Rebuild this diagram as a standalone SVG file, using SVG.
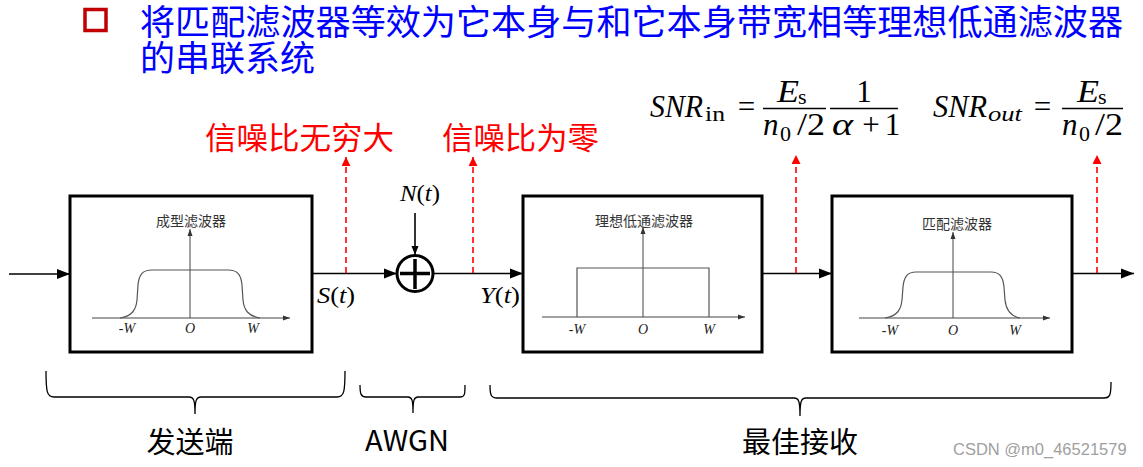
<svg xmlns="http://www.w3.org/2000/svg" width="1143" height="467" viewBox="0 0 1143 467">
<style>
.title{font-family:"Noto Sans CJK SC","Noto Sans",sans-serif;font-size:35px;fill:#0000FF}
.red{font-family:"Noto Sans CJK SC","Noto Sans",sans-serif;font-size:31px;fill:#FF0000}
.cap{font-family:"Noto Sans CJK SC","Noto Sans",sans-serif;font-size:14px;fill:#333}
.bot{font-family:"Noto Sans CJK SC","Noto Sans",sans-serif;font-size:29px;fill:#000}
.m{font-family:"Liberation Serif","DejaVu Serif",serif;fill:#000}
.mi{font-style:italic}
.ax{font-family:"Liberation Serif",serif;font-style:italic;font-size:14px;fill:#222;text-anchor:middle}
.box{fill:#fff;stroke:#000;stroke-width:3}
.axis{stroke:#444;stroke-width:1;fill:none}
.curve{stroke:#555;stroke-width:1.2;fill:none}
.flow{stroke:#000;stroke-width:1.6;fill:none}
.dash{stroke:#FF0000;stroke-width:1.6;stroke-dasharray:6,4;fill:none}
.bar{stroke:#000;stroke-width:1.5}
.brace{stroke:#000;stroke-width:1.3;fill:none}
</style>
<defs>
<marker id="ah" markerUnits="userSpaceOnUse" markerWidth="14" markerHeight="12" refX="13" refY="6" orient="auto"><path d="M0,1 L13,6 L0,11 Z" fill="#000"/></marker>
<marker id="ahs" markerUnits="userSpaceOnUse" markerWidth="10" markerHeight="8" refX="9" refY="4" orient="auto"><path d="M0,0.5 L9,4 L0,7.5 Z" fill="#000"/></marker>
<marker id="axh" markerUnits="userSpaceOnUse" markerWidth="8" markerHeight="6" refX="7" refY="3" orient="auto"><path d="M0,0.5 L7,3 L0,5.5 Z" fill="#333"/></marker>
<marker id="rh" markerUnits="userSpaceOnUse" markerWidth="10" markerHeight="10" refX="9" refY="4.5" orient="auto"><path d="M0,0 L9,4.5 L0,9 Z" fill="#FF0000"/></marker>
</defs>

<g id="title">
<rect x="85" y="9.5" width="21" height="21" fill="none" stroke="#C00000" stroke-width="3.5"/>
<text class="title" x="140" y="35" textLength="983" lengthAdjust="spacingAndGlyphs">将匹配滤波器等效为它本身与和它本身带宽相等理想低通滤波器</text>
<text class="title" x="140" y="71">的串联系统</text>
</g>

<g id="labels-red">
<text class="red" x="205" y="149" textLength="189" lengthAdjust="spacingAndGlyphs">信噪比无穷大</text>
<text class="red" x="442" y="149" textLength="157" lengthAdjust="spacingAndGlyphs">信噪比为零</text>
</g>

<g id="formula-in" class="m">
<text x="650" y="117" font-size="31" class="mi" textLength="53" lengthAdjust="spacingAndGlyphs">SNR</text>
<text x="705" y="121" font-size="22" textLength="20" lengthAdjust="spacingAndGlyphs">in</text>
<text x="746.5" y="117" font-size="31" text-anchor="middle">=</text>
<line class="bar" x1="763" y1="108.5" x2="826" y2="108.5"/>
<text x="777" y="102" font-size="31" class="mi" textLength="22" lengthAdjust="spacingAndGlyphs">E</text>
<text x="798" y="104" font-size="22">s</text>
<text x="763" y="135" font-size="31" class="mi">n</text>
<text x="780" y="141" font-size="22">0</text>
<text x="797" y="135" font-size="31" textLength="28" lengthAdjust="spacingAndGlyphs">/2</text>
<line class="bar" x1="830" y1="108.5" x2="898" y2="108.5"/>
<text x="864" y="102" font-size="31" text-anchor="middle">1</text>
<text x="832" y="135" font-size="31" class="mi" textLength="21" lengthAdjust="spacingAndGlyphs">α</text>
<text x="871" y="135" font-size="31" text-anchor="middle">+</text>
<text x="892.5" y="135" font-size="31" text-anchor="middle">1</text>
</g>

<g id="formula-out" class="m">
<text x="933" y="117" font-size="31" class="mi" textLength="54" lengthAdjust="spacingAndGlyphs">SNR</text>
<text x="988" y="121" font-size="22" class="mi" textLength="34" lengthAdjust="spacingAndGlyphs">out</text>
<text x="1042.5" y="117" font-size="31" text-anchor="middle">=</text>
<line class="bar" x1="1062" y1="108.5" x2="1123" y2="108.5"/>
<text x="1077" y="102" font-size="31" class="mi" textLength="22" lengthAdjust="spacingAndGlyphs">E</text>
<text x="1098" y="104" font-size="22">s</text>
<text x="1062" y="135" font-size="31" class="mi">n</text>
<text x="1079" y="141" font-size="22">0</text>
<text x="1095" y="135" font-size="31" textLength="28" lengthAdjust="spacingAndGlyphs">/2</text>
</g>

<g id="shaping-filter">
<rect class="box" x="70" y="196" width="242" height="156"/>
<text class="cap" x="191" y="226" text-anchor="middle">成型滤波器</text>
<line class="axis" x1="92" y1="318" x2="290" y2="318" marker-end="url(#axh)"/>
<line class="axis" x1="190" y1="318" x2="190" y2="229" marker-end="url(#axh)"/>
<path class="curve" d="M120,318 C132,316 136,310 137,300 L138,285 C139,274 143,270 152,270 L228,270 C237,270 241,274 242,285 L243,300 C244,310 248,316 260,318"/>
<text class="ax" x="127" y="333">-W</text>
<text class="ax" x="190" y="333">O</text>
<text class="ax" x="253" y="333">W</text>
</g>

<g id="adder">
<circle cx="415" cy="273.5" r="18" fill="#fff" stroke="#000" stroke-width="3"/>
<line x1="400" y1="273.5" x2="430" y2="273.5" stroke="#000" stroke-width="3.5"/>
<line x1="415" y1="259" x2="415" y2="289" stroke="#000" stroke-width="3.5"/>
</g>

<g id="ideal-lpf">
<rect class="box" x="523" y="196" width="239" height="156"/>
<text class="cap" x="644" y="226" text-anchor="middle">理想低通滤波器</text>
<line class="axis" x1="542" y1="317" x2="745" y2="317" marker-end="url(#axh)"/>
<line class="axis" x1="643" y1="317" x2="643" y2="227" marker-end="url(#axh)"/>
<path class="curve" d="M577,317 L577,268 L709,268 L709,317"/>
<text class="ax" x="577" y="334">-W</text>
<text class="ax" x="643" y="334">O</text>
<text class="ax" x="709" y="334">W</text>
</g>

<g id="matched-filter">
<rect class="box" x="832" y="196" width="240" height="156"/>
<text class="cap" x="957" y="229" text-anchor="middle">匹配滤波器</text>
<line class="axis" x1="859" y1="318" x2="1050" y2="318" marker-end="url(#axh)"/>
<line class="axis" x1="953" y1="318" x2="953" y2="232" marker-end="url(#axh)"/>
<path class="curve" d="M885,318 C897,316 901,310 902,300 L903,287 C904,276 908,272 916,272 L991,272 C999,272 1003,276 1004,287 L1005,300 C1006,310 1010,316 1020,318"/>
<text class="ax" x="890" y="335">-W</text>
<text class="ax" x="953" y="335">O</text>
<text class="ax" x="1015" y="335">W</text>
</g>

<g id="connectors">
<line class="flow" x1="9" y1="274" x2="70" y2="274" marker-end="url(#ah)"/>
<line class="flow" x1="312" y1="273.5" x2="397" y2="273.5" marker-end="url(#ah)"/>
<line class="flow" x1="433" y1="273.5" x2="523" y2="273.5" marker-end="url(#ah)"/>
<line class="flow" x1="415" y1="213" x2="415" y2="255" marker-end="url(#ahs)"/>
<line class="flow" x1="762" y1="273.5" x2="832" y2="273.5" marker-end="url(#ah)"/>
<line class="flow" x1="1072" y1="273.5" x2="1134" y2="273.5" marker-end="url(#ah)"/>
<line class="dash" x1="346" y1="273" x2="346" y2="157" marker-end="url(#rh)"/>
<line class="dash" x1="473" y1="273" x2="473" y2="157" marker-end="url(#rh)"/>
<line class="dash" x1="796" y1="273" x2="796" y2="155" marker-end="url(#rh)"/>
<line class="dash" x1="1097" y1="273" x2="1097" y2="155" marker-end="url(#rh)"/>
</g>

<g id="signal-labels" class="m">
<text x="317" y="303" font-size="24" textLength="38" lengthAdjust="spacingAndGlyphs"><tspan class="mi">S</tspan>(<tspan class="mi">t</tspan>)</text>
<text x="400" y="201" font-size="24" textLength="40" lengthAdjust="spacingAndGlyphs"><tspan class="mi">N</tspan>(<tspan class="mi">t</tspan>)</text>
<text x="480" y="303" font-size="24" textLength="40" lengthAdjust="spacingAndGlyphs"><tspan class="mi">Y</tspan>(<tspan class="mi">t</tspan>)</text>
</g>

<g id="braces">
<path class="brace" d="M46,371 C46,392 47,397 54,397 L189,397 C194,397 195,401 195,414 C195,401 196,397 201,397 L337,397 C344,397 345,392 345,371"/>
<path class="brace" d="M360,385 C360,394 361,397 366,397 L408,397 C412,397 413,400 413,413 C413,400 414,397 418,397 L460,397 C465,397 465,394 465,385"/>
<path class="brace" d="M490,385 C490,395 491,398 497,398 L794,398 C799,398 800,402 800,416 C800,402 801,398 806,398 L1104,398 C1110,398 1111,395 1111,382"/>
</g>

<g id="bottom-labels">
<text class="bot" x="190" y="453" text-anchor="middle">发送端</text>
<text class="bot" x="407" y="451" text-anchor="middle">AWGN</text>
<text class="bot" x="800" y="453" text-anchor="middle">最佳接收</text>
<text x="953" y="455" font-family="Liberation Sans, Arial, sans-serif" font-size="16.5" fill="#A0A0A0">CSDN @m0_46521579</text>
</g>
</svg>
